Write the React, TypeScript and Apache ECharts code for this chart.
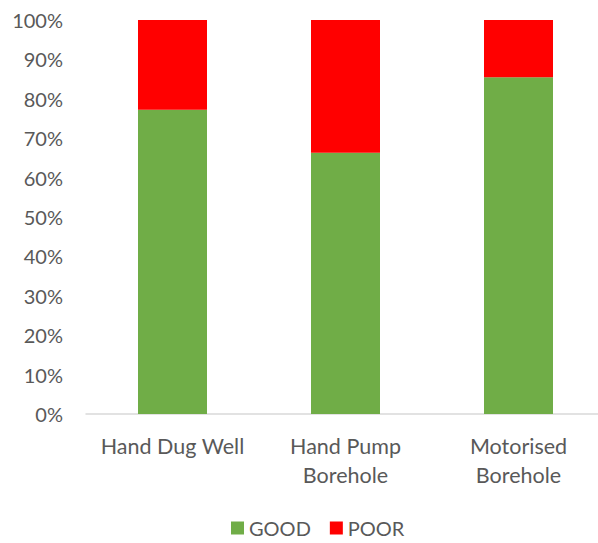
import React, { useEffect, useRef } from "react";
import * as echarts from "echarts";

const categories = ["Hand Dug Well", "Hand Pump\nBorehole", "Motorised\nBorehole"];
const goodValues = [77.2, 66.3, 85.5];
const poorValues = [22.8, 33.7, 14.5];
const yTicks = [0, 10, 20, 30, 40, 50, 60, 70, 80, 90, 100];

const FONT = "Lato, 'Noto Sans', sans-serif";
const TEXT = "#595959";

export default function App() {
  const ref = useRef<HTMLDivElement>(null);
  useEffect(() => {
    if (!ref.current) return;
    const chart = echarts.init(ref.current, undefined, { renderer: "svg" });
    chart.setOption({
      animation: false,
      textStyle: { fontFamily: FONT },
      grid: { left: 86, right: 5, top: 20, bottom: 129, containLabel: false },
      legend: {
        data: ["GOOD", "POOR"],
        left: 231,
        top: 518,
        padding: 0,
        icon: "rect",
        itemWidth: 13,
        itemHeight: 13,
        itemGap: 19,
        textStyle: { color: TEXT, fontSize: 20, fontFamily: FONT },
      },
      xAxis: {
        type: "category",
        data: categories,
        axisLine: { show: true, lineStyle: { color: "#d9d9d9", width: 1.5 } },
        axisTick: { show: false },
        axisLabel: {
          color: TEXT,
          fontSize: 21.5,
          fontFamily: FONT,
          lineHeight: 29,
          margin: 17,
          interval: 0,
        },
      },
      yAxis: {
        type: "value",
        min: yTicks[0],
        max: yTicks[yTicks.length - 1],
        interval: 10,
        axisLine: { show: false },
        axisTick: { show: false },
        splitLine: { show: false },
        axisLabel: {
          color: TEXT,
          fontSize: 20,
          fontFamily: FONT,
          margin: 23,
          formatter: "{value}%",
        },
      },
      series: [
        {
          name: "GOOD",
          type: "bar",
          stack: "total",
          data: goodValues,
          barWidth: 69,
          itemStyle: { color: "#70AD47" },
        },
        {
          name: "POOR",
          type: "bar",
          stack: "total",
          data: poorValues,
          barWidth: 69,
          itemStyle: { color: "#FF0000" },
        },
      ],
    });
    return () => chart.dispose();
  }, []);
  return (
    <div style={{ width: 598, height: 543, position: "absolute", left: 0, top: 0, overflow: "hidden" }}>
      <div ref={ref} style={{ width: 610, height: 543 }} />
    </div>
  );
}
